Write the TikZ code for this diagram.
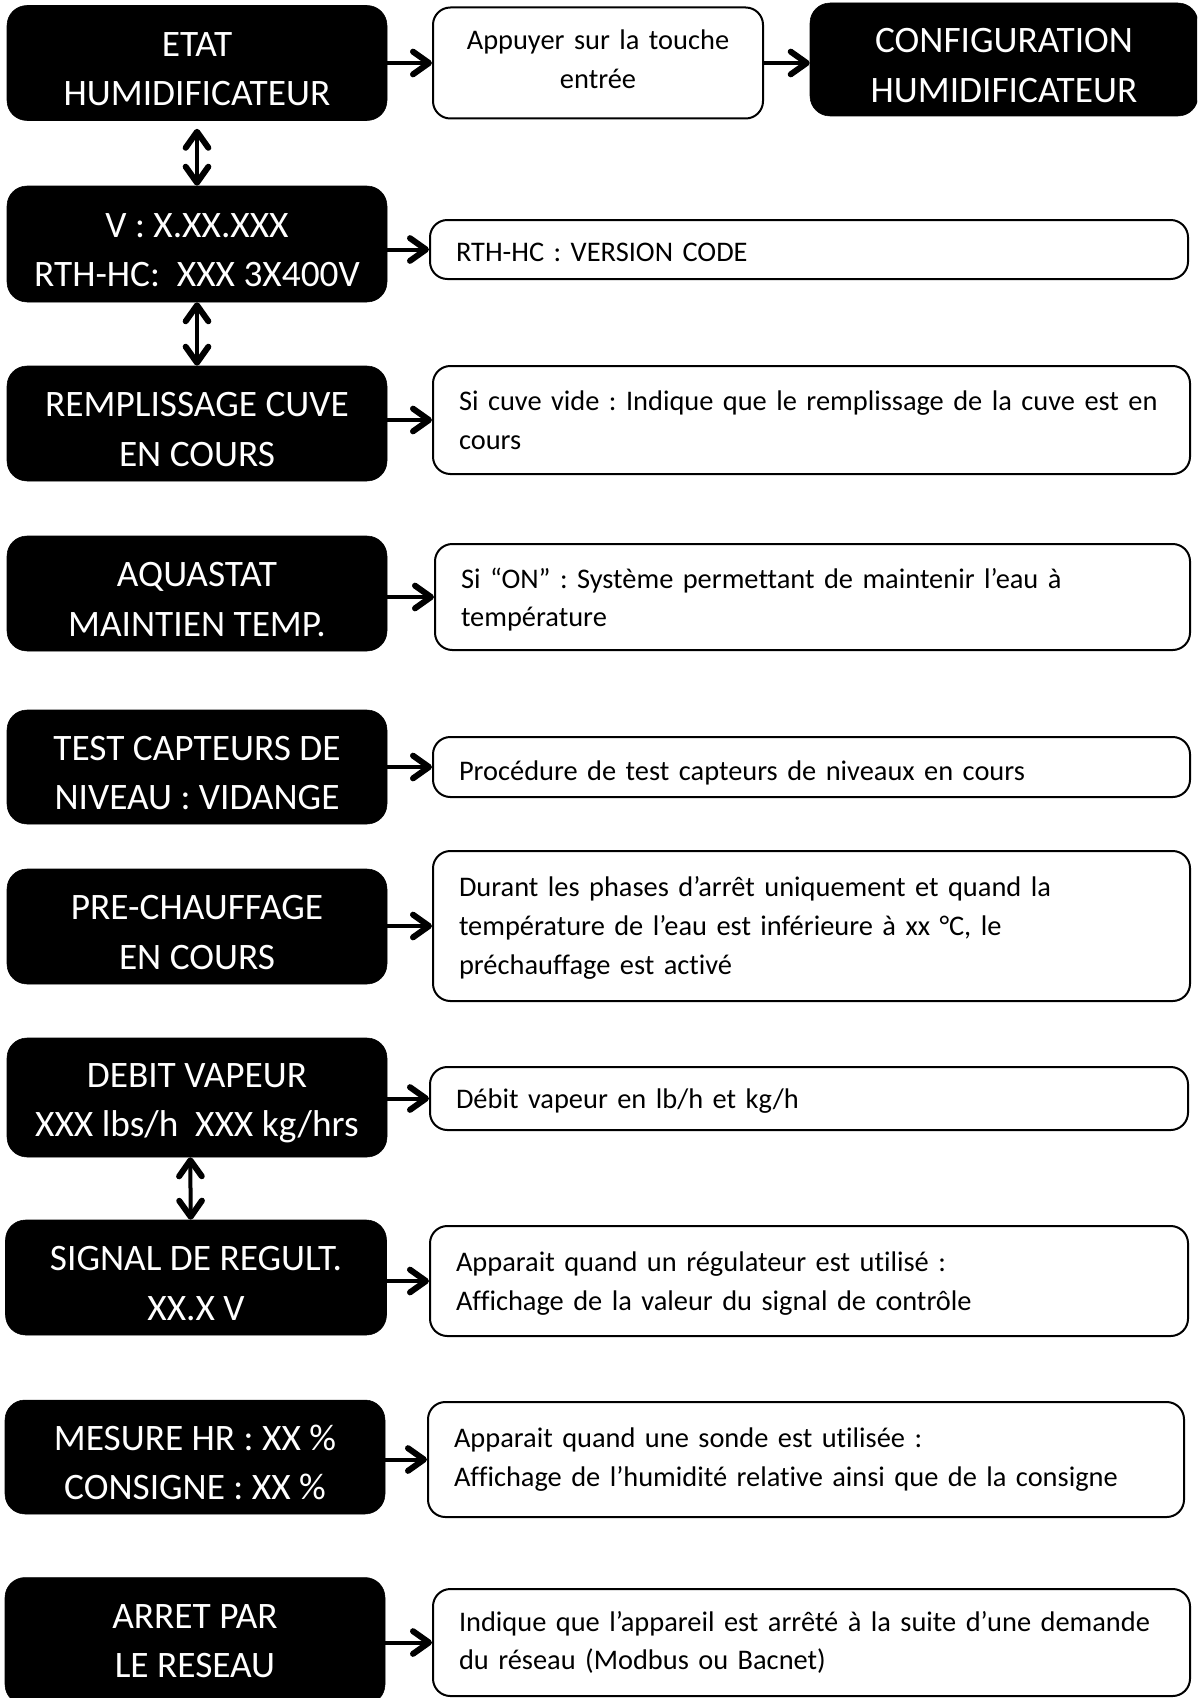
\documentclass[tikz,border=0pt]{standalone}
\usepackage{fontspec}
\setmainfont{Carlito}[Ligatures=NoCommon]
\usetikzlibrary{arrows.meta}
\newcommand\lfont{\fontsize{28}{37}\selectfont\frenchspacing}
\newcommand\rfont{\fontsize{21.3}{29}\selectfont\frenchspacing}
\newcommand\ltop{\rule{0pt}{27pt}}
\tikzset{
  lbox/.code 2 args={%
    \pgfmathsetlengthmacro\lw{#1*0.75pt}%
    \pgfmathsetlengthmacro\lh{#2*0.75pt}%
    \edef\tmp{\noexpand\tikzset{minimum width=\lw, minimum height=\lh}}\tmp
    \tikzset{draw=black, fill=black, text=white, rounded corners=15pt,
      inner sep=0pt, align=center, font=\lfont}},
  rbox/.code 2 args={%
    \pgfmathsetlengthmacro\rw{#1*0.75pt}%
    \pgfmathsetlengthmacro\rtw{#1*0.75pt-39pt}%
    \pgfmathsetlengthmacro\rh{#2*0.75pt}%
    \edef\tmp{\noexpand\tikzset{minimum width=\rw, text width=\rtw, minimum height=\rh}}\tmp
    \tikzset{draw=black, line width=1.5pt, fill=white, rounded corners=13pt,
      inner xsep=19.5pt, inner ysep=0pt, align=left, font=\rfont}},
  tip/.tip={Straight Barb[length=12pt,width=17pt,line width=4.5pt,line cap=round,line join=round]},
  arr/.style={line width=3pt, -tip},
  darr/.style={line width=3pt, tip-tip},
}
\begin{document}
\begin{tikzpicture}[x=0.75pt,y=-0.75pt]
\useasboundingbox (0,0) rectangle (1197,1698);
\clip (0,0) rectangle (1197,1698);
% left boxes
\node[lbox={380}{115}] (etat) at (197,63) {\ltop ETAT\\HUMIDIFICATEUR};
\node[lbox={388}{113}] (config) at (1004,59.5) {\ltop CONFIGURATION\\HUMIDIFICATEUR};
\node[lbox={380}{116}] (ver) at (197,244) {\ltop V : X.XX.XXX\\RTH-HC:\ \ XXX 3X400V};
\node[lbox={380}{115}] (rempl) at (197,423.5) {\ltop REMPLISSAGE CUVE\\EN COURS};
\node[lbox={380}{115}] (aqua) at (197,593.5) {\ltop AQUASTAT\\MAINTIEN TEMP.};
\node[lbox={380}{114}] (test) at (197,767) {\ltop TEST CAPTEURS DE\\NIVEAU : VIDANGE};
\node[lbox={380}{115}] (pre) at (197,926.5) {\ltop PRE-CHAUFFAGE\\EN COURS};
\node[lbox={380}{119}] (debit) at (197,1097.5) {\ltop DEBIT VAPEUR\\XXX lbs/h\ \ XXX kg/hrs};
\node[lbox={381}{115}] (signal) at (196,1277.5) {\ltop SIGNAL DE REGULT.\\XX.X V};
\node[lbox={380}{114}] (mesure) at (195,1457) {\ltop MESURE HR : XX \%\\CONSIGNE : XX \%};
\node[lbox={380}{127}] (arret) at (195,1641) {ARRET PAR\\LE RESEAU};
% right boxes
\node[rbox={330}{111}, align=center] (appuyer) at (598,63) {Appuyer sur la touche\\entrée\rule[-6pt]{0pt}{0pt}};
\node[rbox={758}{59}] (rth) at (809,249.5) {\rule{0pt}{18pt}RTH-HC : VERSION CODE};
\node[rbox={757}{108}] (sicuve) at (811.5,420) {Si cuve vide : Indique que le remplissage de la cuve est en\\cours};
\node[rbox={755}{106}] (sion) at (812.5,597) {\rule{0pt}{19pt}Si “ON” : Système permettant de maintenir l’eau à\\température};
\node[rbox={757}{60}] (proc) at (811.5,767) {\rule{0pt}{23pt}Procédure de test capteurs de niveaux en cours};
\node[rbox={757}{150}] (durant) at (811.5,926) {\rule{0pt}{18pt}Durant les phases d’arrêt uniquement et quand la\\température de l’eau est inférieure à xx °C, le\\préchauffage est activé};
\node[rbox={758}{63}] (debitv) at (809,1098.5) {\rule{0pt}{19pt}Débit vapeur en lb/h et kg/h};
\node[rbox={758}{110}] (appreg) at (809,1281) {\rule{0pt}{19pt}Apparait quand un régulateur est utilisé :\\Affichage de la valeur du signal de contrôle};
\node[rbox={756}{115}] (appsonde) at (806,1459.5) {Apparait quand une sonde est utilisée :\\Affichage de l’humidité relative ainsi que de la consigne};
\node[rbox={757}{107}] (indique) at (811.5,1642.5) {Indique que l’appareil est arrêté à la suite d’une demande\\du réseau (Modbus ou Bacnet)};
% horizontal arrows
\draw[arr] (etat.east |- appuyer.west) -- (appuyer.west);
\draw[arr] (appuyer.east) -- (config.west |- appuyer.east);
\draw[arr] (ver.east |- rth.west) -- (rth.west);
\draw[arr] (rempl.east |- sicuve.west) -- (sicuve.west);
\draw[arr] (aqua.east |- sion.west) -- (sion.west);
\draw[arr] (test.east |- proc.west) -- (proc.west);
\draw[arr] (pre.east |- durant.west) -- (durant.west);
\draw[arr] (debit.east |- debitv.west) -- (debitv.west);
\draw[arr] (signal.east |- appreg.west) -- (appreg.west);
\draw[arr] (mesure.east |- appsonde.west) -- (appsonde.west);
\draw[arr] (arret.east |- indique.west) -- (indique.west);
% vertical double arrows
\draw[darr] ([yshift=-6pt]etat.south) -- (ver.north);
\draw[darr] (ver.south) -- (rempl.north);
\draw[darr] ([xshift=-5pt]debit.south) -- ([xshift=-4pt]signal.north);
\end{tikzpicture}
\end{document}
